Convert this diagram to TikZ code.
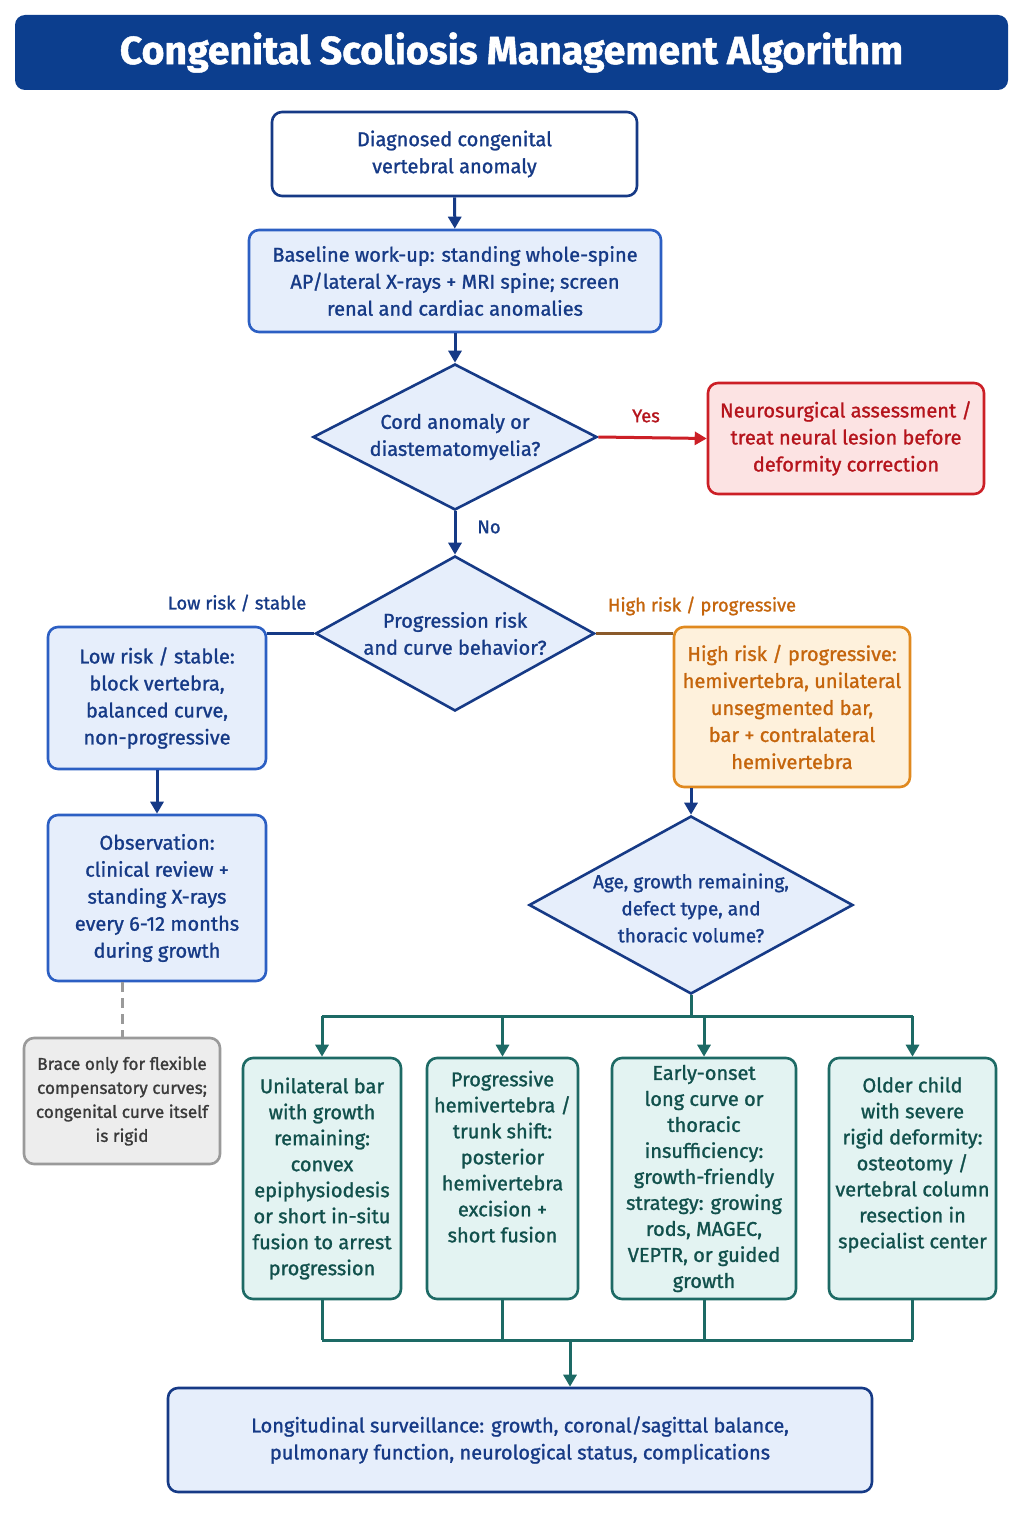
\documentclass[tikz,border=0pt]{standalone}
\usepackage{fontspec}
\setmainfont{Fira Sans}[FakeBold=1.2]
\usetikzlibrary{shapes.geometric,arrows.meta}
\definecolor{navy}{HTML}{163A86}
\definecolor{titleblue}{HTML}{0C3E8E}
\definecolor{boxblue}{HTML}{2C5FC3}
\definecolor{paleblue}{HTML}{E6EEFB}
\definecolor{redline}{HTML}{CC1F26}
\definecolor{redtext}{HTML}{B5141C}
\definecolor{palered}{HTML}{FCE3E3}
\definecolor{orangeline}{HTML}{E0891F}
\definecolor{orangetext}{HTML}{C5650C}
\definecolor{paleorange}{HTML}{FEF1DC}
\definecolor{brownline}{HTML}{8A5A2A}
\definecolor{tealline}{HTML}{1D6A65}
\definecolor{tealtext}{HTML}{11504C}
\definecolor{paleteal}{HTML}{E3F3F2}
\definecolor{grayline}{HTML}{9A9A9A}
\definecolor{graytext}{HTML}{3A3A3A}
\definecolor{palegray}{HTML}{EDEDED}
\tikzset{
  basebox/.style={rectangle, rounded corners=5pt, line width=1.3pt, align=center,
    inner sep=2pt, font=\fontsize{10}{13.5}\selectfont},
  bluebox/.style={basebox, draw=boxblue, fill=paleblue, text=navy},
  startbox/.style={basebox, draw=navy, fill=white, text=navy},
  redbox/.style={basebox, draw=redline, fill=palered, text=redtext},
  orangebox/.style={basebox, draw=orangeline, fill=paleorange, text=orangetext},
  tealbox/.style={basebox, draw=tealline, fill=paleteal, text=tealtext,
    font=\fontsize{10}{13}\selectfont},
  graybox/.style={basebox, draw=grayline, fill=palegray, text=graytext,
    font=\fontsize{8.6}{12}\selectfont},
  decision/.style={diamond, draw=navy, fill=paleblue, line width=1.3pt, inner sep=0pt},
  dtext/.style={align=center, text=navy, font=\fontsize{10}{13.5}\selectfont},
  flow/.style={line width=1.5pt, -{Triangle[length=6pt,width=6.5pt]}},
  lbl/.style={font=\fontsize{9.2}{11}\selectfont},
}
\begin{document}
\begin{tikzpicture}[x=0.5pt,y=-0.5pt]
    \useasboundingbox[fill=white] (0,0) rectangle (1024,1536);
    % title
    \node[rectangle, rounded corners=5pt, fill=titleblue, text=white,
      minimum width=496.5pt, minimum height=37.5pt,
      font=\fontsize{19.6}{22}\selectfont\bfseries] (title) at (511.5,52.5)
      {Congenital Scoliosis Management Algorithm};
    % main column
    \node[startbox, minimum width=182.5pt, minimum height=42pt] (diag) at (454.5,154)
      {Diagnosed congenital\\vertebral anomaly};
    \node[bluebox, minimum width=206pt, minimum height=51pt] (workup) at (455,281)
      {Baseline work-up: standing whole-spine\\AP/lateral X-rays + MRI spine; screen\\renal and cardiac anomalies};
    \node[decision, minimum width=142pt, minimum height=73pt] (cord) at (455,437) {};
    \node[dtext] (cordtxt) at (cord) {Cord anomaly or\\diastematomyelia?};
    \node[redbox, minimum width=138pt, minimum height=55.5pt] (neuro) at (846,438.5)
      {Neurosurgical assessment /\\treat neural lesion before\\deformity correction};
    \node[decision, minimum width=139.5pt, minimum height=77.5pt] (risk) at (455,633.5) {};
    \node[dtext] (risktxt) at (risk) {Progression risk\\and curve behavior?};
    % low risk branch
    \node[bluebox, minimum width=109pt, minimum height=71pt] (low) at (157,698)
      {Low risk / stable:\\block vertebra,\\balanced curve,\\non-progressive};
    \node[bluebox, minimum width=109pt, minimum height=83pt] (obs) at (157,898)
      {Observation:\\clinical review +\\standing X-rays\\every 6-12 months\\during growth};
    \node[graybox, minimum width=98pt, minimum height=63pt] (brace) at (122,1101)
      {Brace only for flexible\\compensatory curves;\\congenital curve itself\\is rigid};
    % high risk branch
    \node[orangebox, minimum width=118pt, minimum height=80pt] (high) at (792,707)
      {High risk / progressive:\\hemivertebra, unilateral\\unsegmented bar,\\bar + contralateral\\hemivertebra};
    \node[decision, minimum width=162pt, minimum height=89pt] (age) at (691,905) {};
    \node[dtext, font=\fontsize{9.5}{13.5}\selectfont] (agetxt) at ([yshift=-1.5pt]age.center)
      {Age, growth remaining,\\defect type, and\\thoracic volume?};
    % treatment options
    \node[tealbox, minimum width=79pt, minimum height=120.5pt] (bar) at (322,1178.5)
      {Unilateral bar\\with growth\\remaining:\\convex\\epiphysiodesis\\or short in-situ\\fusion to arrest\\progression};
    \node[tealbox, minimum width=75.5pt, minimum height=120.5pt] (hemi) at (502.5,1178.5)
      {Progressive\\hemivertebra /\\trunk shift:\\posterior\\hemivertebra\\excision +\\short fusion\\[9pt]};
    \node[tealbox, minimum width=92pt, minimum height=120.5pt] (early) at (704,1178.5)
      {Early-onset\\long curve or\\thoracic\\insufficiency:\\growth-friendly\\strategy: growing\\rods, MAGEC,\\VEPTR, or guided\\growth};
    \node[tealbox, minimum width=83.5pt, minimum height=120.5pt] (older) at (912.5,1178.5)
      {Older child\\with severe\\rigid deformity:\\osteotomy /\\vertebral column\\resection in\\specialist center\\[3pt]};
    \node[startbox, fill=paleblue, minimum width=352pt, minimum height=52pt] (surv) at (520,1440)
      {Longitudinal surveillance: growth, coronal/sagittal balance,\\pulmonary function, neurological status, complications};
    % connectors
    \draw[flow, navy] (diag) -- (workup);
    \draw[flow, navy] (workup) -- (cord.north);
    \draw[flow, redline] (cord.east) -- (neuro.west);
    \node[lbl, text=redtext] (yes) at (646,416) {Yes};
    \draw[flow, navy] (cord.south) -- (risk.north);
    \node[lbl, text=navy] (no) at (489,527) {No};
    \draw[line width=1.5pt, navy] (risk.west) -- (low.east |- risk.west);
    \node[lbl, text=navy] (lowlbl) at (237,603) {Low risk / stable};
    \draw[line width=1.5pt, brownline] (risk.east) -- (high.west |- risk.east);
    \node[lbl, text=orangetext] (highlbl) at (702,606) {High risk / progressive};
    \draw[flow, navy] (low) -- (obs);
    \draw[line width=1.5pt, grayline, dash pattern=on 5pt off 3pt] (obs.south -| brace.north) -- (brace.north);
    \draw[flow, navy] (high.south -| age.north) -- (age.north);
    % split to the four options
    \coordinate (split) at (691,1016);
    \draw[line width=1.5pt, tealline] (age.south) -- (split);
    \draw[line width=1.5pt, tealline] (split -| bar.north) -- (split -| older.north);
    \foreach \opt in {bar,hemi,early,older}
      \draw[flow, tealline] (split -| \opt.north) -- (\opt.north);
    % merge to surveillance
    \coordinate (merge) at (570,1340);
    \foreach \opt in {bar,hemi,early,older}
      \draw[line width=1.5pt, tealline] (\opt.south) -- (merge -| \opt.south);
    \draw[line width=1.5pt, tealline] (merge -| bar.south) -- (merge -| older.south);
    \draw[flow, tealline] (merge) -- (merge |- surv.north);
\end{tikzpicture}
\end{document}
